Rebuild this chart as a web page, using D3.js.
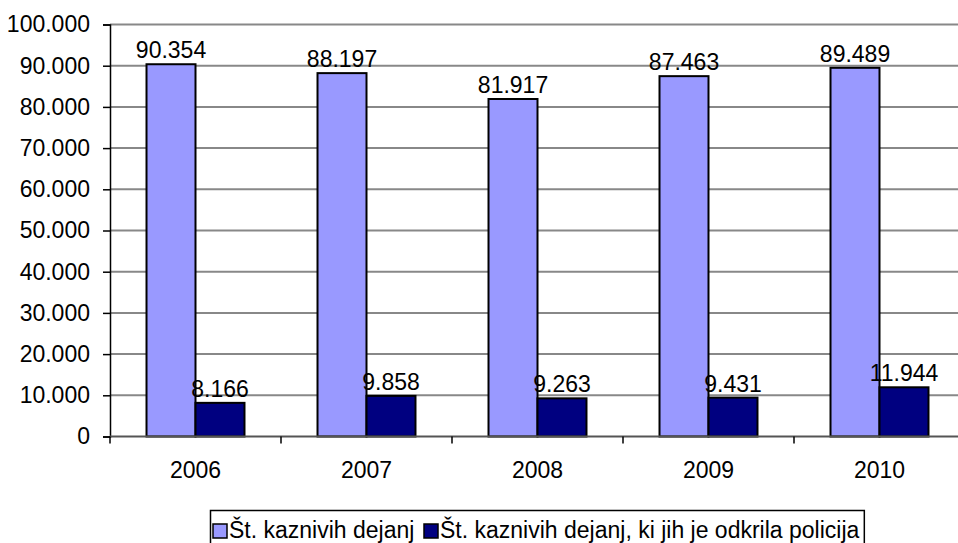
<!DOCTYPE html>
<html>
<head>
<meta charset="utf-8">
<script src="https://cdn.jsdelivr.net/npm/d3@7"></script>
<style>
  body { margin: 0; background: #fff; }
  svg { display: block; font-family: "Liberation Sans", Arial, sans-serif; }
</style>
</head>
<body>
<div id="chart"></div>
<script>
// Data
var years = ["2006", "2007", "2008", "2009", "2010"]
var seriesNames = ["Št. kaznivih dejanj", "Št. kaznivih dejanj, ki jih je odkrila policija"]
var allCrimes = [90354, 88197, 81917, 87463, 89489]
var policeFound = [8166, 9858, 9263, 9431, 11944]
var yTicks = [0, 10000, 20000, 30000, 40000, 50000, 60000, 70000, 80000, 90000, 100000]
var colors = ["#9999FF", "#000080"]

var width = 958, height = 543
var plotLeft = 110, plotRight = 965, plotTop = 24.5, plotBottom = 436.5
var fontSize = 23

var loc = d3.formatLocale({ decimal: ",", thousands: ".", grouping: [3], currency: ["", ""] })
var fmt = loc.format(",")

var svg = d3.select("#chart").append("svg")
  .attr("width", width)
  .attr("height", height)

svg.append("rect").attr("width", width).attr("height", height).attr("fill", "#fff")

var y = d3.scaleLinear().domain([0, 100000]).range([plotBottom, plotTop])

var x = d3.scaleBand().domain(years).range([plotLeft, plotRight])
  .paddingInner(0.427).paddingOuter(0.2135)

var xs = d3.scaleBand().domain([0, 1]).range([0, x.bandwidth()])

// Gridlines
svg.append("g")
  .selectAll("line")
  .data(yTicks.filter(function(d) { return d > 0 }))
  .enter().append("line")
  .attr("x1", plotLeft).attr("x2", width)
  .attr("y1", function(d) { return y(d) })
  .attr("y2", function(d) { return y(d) })
  .attr("stroke", "#888")
  .attr("stroke-width", 2)

// Y axis
var yAxis = svg.append("g")
  .attr("transform", "translate(" + plotLeft + ",0)")
  .call(d3.axisLeft(y).tickValues(yTicks).tickFormat(fmt).tickSize(7).tickPadding(13))
yAxis.select(".domain").attr("stroke", "#000").attr("stroke-width", 1.5)
yAxis.selectAll(".tick line").attr("stroke", "#000").attr("stroke-width", 1.5)
yAxis.selectAll(".tick text")
  .attr("font-size", fontSize).attr("fill", "#000")
  .attr("font-family", "Liberation Sans, Arial, sans-serif")

// Bars
var rows = years.map(function(yr, i) { return { year: yr, vals: [allCrimes[i], policeFound[i]] } })

var groups = svg.append("g").selectAll("g")
  .data(rows)
  .enter().append("g")
  .attr("transform", function(d) { return "translate(" + x(d.year) + ",0)" })

groups.selectAll("rect")
  .data(function(d) { return d.vals })
  .enter().append("rect")
  .attr("x", function(d, i) { return xs(i) })
  .attr("y", function(d) { return y(d) })
  .attr("width", xs.bandwidth())
  .attr("height", function(d) { return plotBottom - y(d) })
  .attr("fill", function(d, i) { return colors[i] })
  .attr("stroke", "#000")
  .attr("stroke-width", 2)

groups.selectAll("text")
  .data(function(d) { return d.vals })
  .enter().append("text")
  .attr("x", function(d, i) { return xs(i) + xs.bandwidth() / 2 })
  .attr("y", function(d) { return y(d) - 6 })
  .attr("text-anchor", "middle")
  .attr("font-size", fontSize)
  .text(function(d) { return fmt(d) })

// X axis
var xAxis = svg.append("g")
  .attr("transform", "translate(0," + plotBottom + ")")
xAxis.append("line")
  .attr("x1", plotLeft).attr("x2", width)
  .attr("stroke", "#555").attr("stroke-width", 2)
xAxis.selectAll(".tk")
  .data(years)
  .enter().append("line")
  .attr("x1", function(d) { return x(d) - x.step() * x.paddingInner() / 2 })
  .attr("x2", function(d) { return x(d) - x.step() * x.paddingInner() / 2 })
  .attr("y1", 0).attr("y2", 7)
  .attr("stroke", "#000").attr("stroke-width", 1.5)
xAxis.selectAll("text")
  .data(years)
  .enter().append("text")
  .attr("x", function(d) { return x(d) + x.bandwidth() / 2 })
  .attr("y", 41)
  .attr("text-anchor", "middle")
  .attr("font-size", fontSize)
  .text(function(d) { return d })

// Legend
var legend = svg.append("g")
var legendBox = legend.append("rect")
  .attr("x", 210.5).attr("y", 510.5)
  .attr("height", 40)
  .attr("fill", "#fff").attr("stroke", "#000").attr("stroke-width", 1.5)
var lx = [213, 424]
var lastEnd = 0
seriesNames.forEach(function(name, i) {
  legend.append("rect")
    .attr("x", lx[i]).attr("y", 524)
    .attr("width", 14).attr("height", 14)
    .attr("fill", colors[i]).attr("stroke", "#000").attr("stroke-width", 1.5)
  var t = legend.append("text")
    .attr("x", lx[i] + 16).attr("y", 538)
    .attr("font-size", fontSize)
    .text(name)
  lastEnd = lx[i] + 16 + t.node().getComputedTextLength()
})
legendBox.attr("width", lastEnd + 5 - 210.5)
</script>
</body>
</html>
